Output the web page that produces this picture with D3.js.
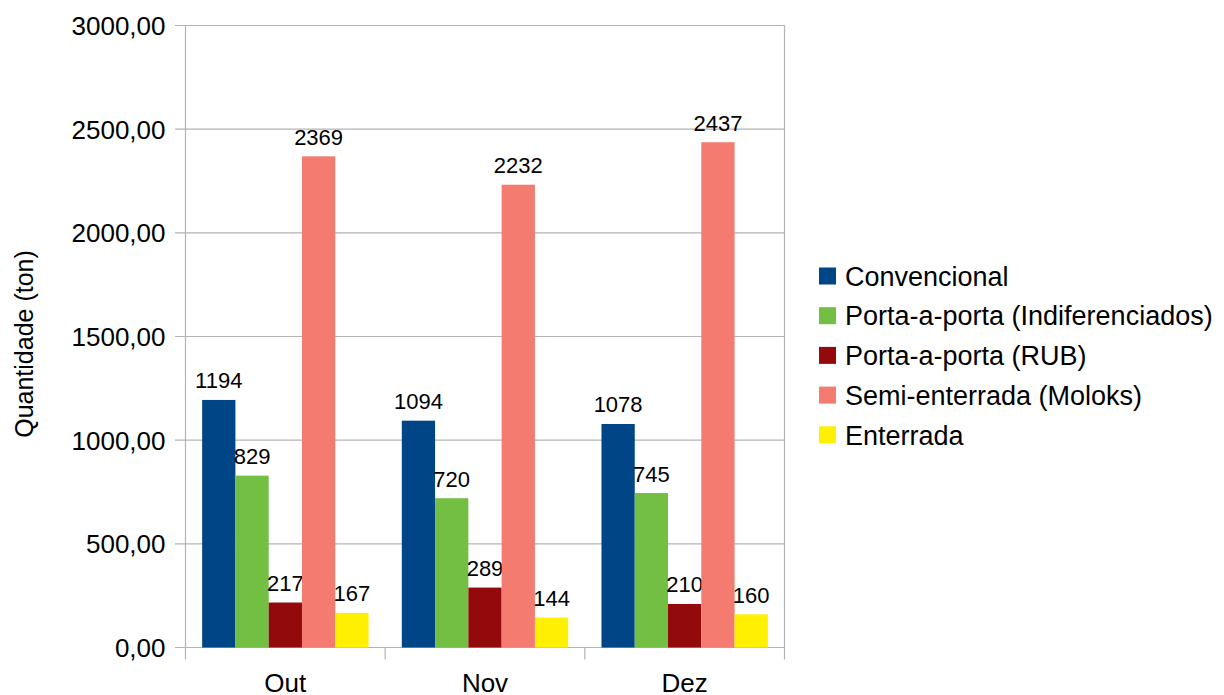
<!DOCTYPE html>
<html>
<head>
<meta charset="utf-8">
<script src="https://cdn.jsdelivr.net/npm/d3@7"></script>
<style>
  body { margin: 0; background: #fff; }
  text { font-family: "Liberation Sans", Arial, sans-serif; fill: #000; }
</style>
</head>
<body>
<svg width="1224" height="695"></svg>
<script>
const months = ["Out", "Nov", "Dez"];
const seriesNames = ["Convencional", "Porta-a-porta (Indiferenciados)", "Porta-a-porta (RUB)", "Semi-enterrada (Moloks)", "Enterrada"];
const convencional = [1194, 1094, 1078];
const indiferenciados = [829, 720, 745];
const rub = [217, 289, 210];
const moloks = [2369, 2232, 2437];
const enterrada = [167, 144, 160];
const yTicks = [0, 500, 1000, 1500, 2000, 2500, 3000];
const colors = ["#004586", "#72bf44", "#930a0c", "#f47b6f", "#ffef00"];

const seriesValues = [convencional, indiferenciados, rub, moloks, enterrada];

const svg = d3.select("svg");
const margin = { top: 25.5, left: 185.5, right: 1224 - 784.5, bottom: 695 - 647.5 };
const innerWidth = 1224 - margin.left - margin.right;
const innerHeight = 695 - margin.top - margin.bottom;
const gridColor = "#b3b3b3";

const g = svg.append("g").attr("transform", `translate(${margin.left},${margin.top})`);

const yScale = d3.scaleLinear().domain([0, 3000]).range([innerHeight, 0]);
const xScale = d3.scaleBand().domain(months).range([0, innerWidth]);
// 5 bars fill the middle 5/6 of each group
const xInner = d3.scaleBand().domain(d3.range(seriesNames.length))
  .range([xScale.bandwidth() / 12, xScale.bandwidth() * 11 / 12]);

// horizontal grid
g.selectAll(".grid").data(yTicks).enter().append("line")
  .attr("x1", -10.5).attr("x2", innerWidth)
  .attr("y1", d => yScale(d)).attr("y2", d => yScale(d))
  .attr("stroke", gridColor).attr("stroke-width", 1.2);

// plot frame: left axis and right border
g.append("line").attr("x1", 0).attr("x2", 0).attr("y1", 0).attr("y2", innerHeight + 12)
  .attr("stroke", gridColor).attr("stroke-width", 1.2);
g.append("line").attr("x1", innerWidth).attr("x2", innerWidth).attr("y1", 0).attr("y2", innerHeight + 12)
  .attr("stroke", gridColor).attr("stroke-width", 1.2);

// category boundary ticks
g.selectAll(".xtick").data(months.slice(1)).enter().append("line")
  .attr("x1", d => xScale(d)).attr("x2", d => xScale(d))
  .attr("y1", innerHeight).attr("y2", innerHeight + 12)
  .attr("stroke", gridColor).attr("stroke-width", 1.2);

// y tick labels
g.selectAll(".ylab").data(yTicks).enter().append("text")
  .attr("x", -20).attr("y", d => yScale(d)).attr("dy", "0.36em")
  .attr("text-anchor", "end").style("font-size", "26px")
  .text(d => d3.format(".2f")(d).replace(".", ","));

// x labels
g.selectAll(".xlab").data(months).enter().append("text")
  .attr("x", d => xScale(d) + xScale.bandwidth() / 2).attr("y", innerHeight + 44)
  .attr("text-anchor", "middle").style("font-size", "26px")
  .text(d => d);

// bars
seriesValues.forEach((vals, si) => {
  const grp = g.append("g");
  grp.selectAll("rect").data(vals).enter().append("rect")
    .attr("x", (d, i) => xScale(months[i]) + xInner(si))
    .attr("width", xInner.bandwidth())
    .attr("y", d => yScale(d))
    .attr("height", d => innerHeight - yScale(d))
    .attr("fill", colors[si]);
  grp.selectAll("text").data(vals).enter().append("text")
    .attr("x", (d, i) => xScale(months[i]) + xInner(si) + xInner.bandwidth() / 2)
    .attr("y", d => yScale(d) - 11.5)
    .attr("text-anchor", "middle").style("font-size", "22px")
    .text(d => d);
});

// y axis title
svg.append("text")
  .attr("transform", "translate(33,344) rotate(-90)")
  .attr("text-anchor", "middle").style("font-size", "25px")
  .text("Quantidade (ton)");

// legend
const legend = svg.append("g").attr("transform", "translate(819,276)");
const rows = legend.selectAll("g").data(seriesNames).enter().append("g")
  .attr("transform", (d, i) => `translate(0,${i * 39.7})`);
rows.append("rect").attr("x", 0).attr("y", -8.5).attr("width", 17).attr("height", 17)
  .attr("fill", (d, i) => colors[i]);
rows.append("text").attr("x", 26).attr("y", 0).attr("dy", "0.36em")
  .style("font-size", "27px").text(d => d);
</script>
</body>
</html>
